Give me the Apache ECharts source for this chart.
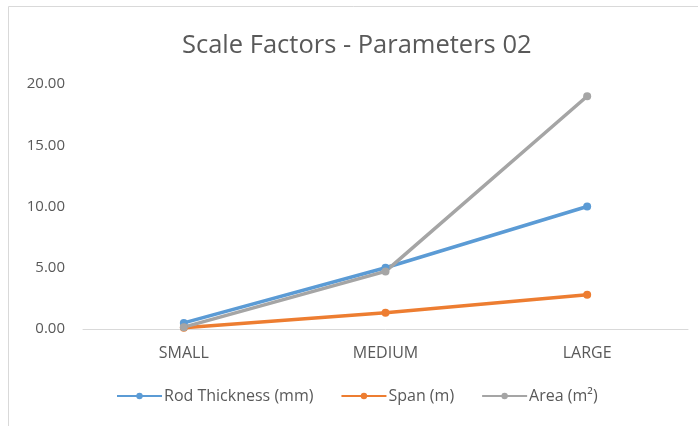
<!DOCTYPE html>
<html>
<head>
<meta charset="utf-8">
<script src="https://cdn.jsdelivr.net/npm/echarts@6/dist/echarts.min.js"></script>
<style>
  html, body { margin: 0; padding: 0; background: #ffffff; }
  #chart { width: 698px; height: 426px; }
</style>
</head>
<body>
<div id="chart"></div>
<script>
// Size categories along the x axis
var categories = ['SMALL', 'MEDIUM', 'LARGE'];

// Scale factor series
var rodThickness = [0.5, 5.0, 10.0];
var span = [0.1, 1.33, 2.8];
var area = [0.15, 4.7, 19.0];

// Value axis ticks
var yMin = 0;
var yMax = 20;
var yStep = 5;

var seriesNames = ['Rod Thickness (mm)', 'Span (m)', 'Area (m\u00B2)'];
var seriesColors = ['#5B9BD5', '#ED7D31', '#A5A5A5'];
var seriesData = [rodThickness, span, area];

var textColor = '#595959';
var fontFamily = 'Open Sans, Liberation Sans, sans-serif';

var chart = echarts.init(document.getElementById('chart'), null, { renderer: 'canvas' });

var series = seriesData.map(function (d, i) {
  return {
    name: seriesNames[i],
    type: 'line',
    data: d,
    symbol: 'circle',
    symbolSize: 8,
    lineStyle: { width: 3.5, color: seriesColors[i] },
    itemStyle: { color: seriesColors[i] },
    emphasis: { disabled: true }
  };
});

chart.setOption({
  animation: false,
  backgroundColor: '#ffffff',
  color: seriesColors,
  title: {
    text: 'Scale Factors - Parameters 02',
    left: 177,
    top: 28,
    textStyle: {
      color: textColor,
      fontFamily: fontFamily,
      fontSize: 25.5,
      fontWeight: 'normal'
    }
  },
  legend: {
    bottom: 17,
    left: 111,
    itemWidth: 45,
    itemHeight: 8,
    itemGap: 27,
    data: seriesNames,
    textStyle: { color: textColor, fontFamily: fontFamily, fontSize: 16, padding: [0, 0, 0, -3] }
  },
  grid: {
    left: 83,
    right: 10,
    top: 84,
    bottom: 97,
    containLabel: false
  },
  xAxis: {
    type: 'category',
    data: categories,
    boundaryGap: true,
    axisLine: { lineStyle: { color: '#D9D9D9', width: 1 } },
    axisTick: { show: false },
    axisLabel: {
      color: textColor,
      fontFamily: fontFamily,
      fontSize: 16,
      margin: 16
    }
  },
  yAxis: {
    type: 'value',
    min: yMin,
    max: yMax,
    interval: yStep,
    axisLine: { show: false },
    axisTick: { show: false },
    splitLine: { show: false },
    axisLabel: {
      color: textColor,
      fontFamily: fontFamily,
      fontSize: 15,
      margin: 18,
      formatter: function (v) { return v.toFixed(2); }
    }
  },
  graphic: [
    {
      type: 'line',
      shape: { x1: 8.5, y1: 6.5, x2: 698, y2: 6.5 },
      style: { stroke: '#D9D9D9', lineWidth: 1 }
    },
    {
      type: 'line',
      shape: { x1: 8.5, y1: 6.5, x2: 8.5, y2: 426 },
      style: { stroke: '#D9D9D9', lineWidth: 1 }
    }
  ],
  series: series
});
</script>
</body>
</html>
